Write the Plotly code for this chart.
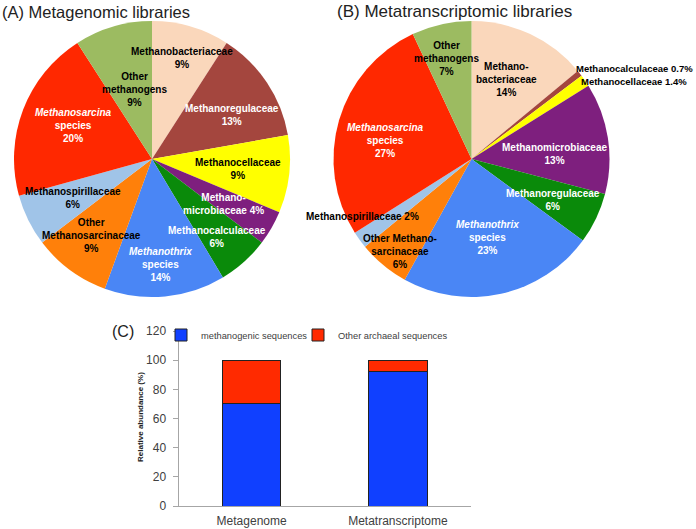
import math
import plotly.graph_objects as go

W, H = 696, 529

# ---------------- data ----------------
pie_colors = ["#FAD7BB", "#A4463E", "#FFFF00", "#7E1F7E", "#0A8A0A",
              "#4A86F5", "#FF800A", "#A0C4E8", "#FF2800", "#9CBB61"]

a_names = ["Methanobacteriaceae", "Methanoregulaceae", "Methanocellaceae",
           "Methanomicrobiaceae", "Methanocalculaceae", "Methanothrix species",
           "Other Methanosarcinaceae", "Methanospirillaceae",
           "Methanosarcina species", "Other methanogens"]
a_values = [9, 13, 9, 4, 6, 14, 9, 6, 20, 9]
a_text = ["Methanobacteriaceae<br>9%", "Methanoregulaceae<br>13%",
          "Methanocellaceae<br>9%", "Methano-<br>microbiaceae 4%",
          "Methanocalculaceae<br>6%", "<i>Methanothrix</i><br>species<br>14%",
          "Other<br>Methanosarcinaceae<br>9%", "Methanospirillaceae<br>6%",
          "<i>Methanosarcina</i><br>species<br>20%", "Other<br>methanogens<br>9%"]

b_names = ["Methanobacteriaceae", "Methanocalculaceae", "Methanocellaceae",
           "Methanomicrobiaceae", "Methanoregulaceae", "Methanothrix species",
           "Other Methanosarcinaceae", "Methanospirillaceae",
           "Methanosarcina species", "Other methanogens"]
b_values = [14, 0.7, 1.4, 13, 6, 23, 6, 2, 27, 7]
b_text = ["Methano-<br>bacteriaceae<br>14%", "Methanocalculaceae 0.7%",
          "Methanocellaceae 1.4%", "Methanomicrobiaceae<br>13%",
          "Methanoregulaceae<br>6%", "<i>Methanothrix</i><br>species<br>23%",
          "Other Methano-<br>sarcinaceae<br>6%", "Methanospirillaceae 2%",
          "<i>Methanosarcina</i><br>species<br>27%", "Other<br>methanogens<br>7%"]

bar_categories = ["Metagenome", "Metatranscriptome"]
methanogenic = [70, 92.5]
other_archaeal = [30, 7.5]
y_ticks = [0, 20, 40, 60, 80, 100, 120]

# ---------------- style / label placement ----------------
a_lab_color = ["black", "white", "black", "white", "white", "white",
               "black", "black", "white", "black"]
a_frac = [0.76, 0.66, 0.63, 0.61, 0.74, 0.77, 0.71, 0.64, 0.62, 0.52]
a_dang = [0, 5, 0, 2, 2, 1, 2, 0, 2, 2]
a_anchor = ["center"] * 10
a_size = [10] * 10

b_lab_color = ["black", "black", "black", "white", "white", "white",
               "black", "black", "white", "black"]
b_frac = [0.63, 0.99, 0.96, 0.60, 0.66, 0.58, 0.85, 0.89, 0.64, 0.75]
b_dang = [-1.5, -3.3, -1.4, 5.5, 1, 1, -2, 8, -4.5, -1.5]
b_anchor = ["center", "left", "left", "center", "center", "center",
            "center", "center", "center", "center"]
b_size = [10, 9.5, 9.5, 10, 10, 10, 10, 10, 10, 10]

FONT = "Liberation Sans, Arial, sans-serif"

pieA = dict(cx=152, cy=159, r=138)
pieB = dict(cx=471.5, cy=159, r=138)


def domain(p):
    return dict(x=[(p["cx"] - p["r"]) / W, (p["cx"] + p["r"]) / W],
                y=[1 - (p["cy"] + p["r"]) / H, 1 - (p["cy"] - p["r"]) / H])


def labels(values, texts, fracs, dangs, colors, anchors, sizes, p):
    total = sum(values)
    cum = 0.0
    out = []
    for v, t, f, d, c, an, s in zip(values, texts, fracs, dangs, colors, anchors, sizes):
        mid = math.radians((cum + v / 2) / total * 360 + d)
        cum += v
        px = p["cx"] + f * p["r"] * math.sin(mid)
        py = p["cy"] - f * p["r"] * math.cos(mid)
        out.append(dict(x=px / W, y=1 - py / H, xref="paper", yref="paper",
                        text=t, showarrow=False, xanchor=an, yanchor="middle",
                        align="center",
                        font=dict(family=FONT, size=s, color=c, weight="bold")))
    return out


fig = go.Figure()
fig.add_trace(go.Pie(values=a_values, labels=a_names, sort=False,
                     direction="clockwise", rotation=0, textinfo="none",
                     hoverinfo="label+percent", showlegend=False,
                     marker=dict(colors=pie_colors, line=dict(width=0)),
                     domain=domain(pieA)))
fig.add_trace(go.Pie(values=b_values, labels=b_names, sort=False,
                     direction="clockwise", rotation=0, textinfo="none",
                     hoverinfo="label+percent", showlegend=False,
                     marker=dict(colors=pie_colors, line=dict(width=0)),
                     domain=domain(pieB)))

fig.add_trace(go.Bar(x=bar_categories, y=methanogenic, name="methanogenic sequences",
                     marker=dict(color="#1040FF", line=dict(color="#222222", width=1)),
                     width=0.4, legend="legend"))
fig.add_trace(go.Bar(x=bar_categories, y=other_archaeal, name="Other archaeal sequences",
                     marker=dict(color="#FF2A00", line=dict(color="#222222", width=1)),
                     width=0.4, legend="legend2"))

ann = []
ann += labels(a_values, a_text, a_frac, a_dang, a_lab_color, a_anchor, a_size, pieA)
ann += labels(b_values, b_text, b_frac, b_dang, b_lab_color, b_anchor, b_size, pieB)
ann.append(dict(x=0, y=1 - 12 / H, xref="paper", yref="paper", xanchor="left",
                yanchor="middle", showarrow=False, text="(A) Metagenomic libraries",
                font=dict(family=FONT, size=16.5, color="#222222")))
ann.append(dict(x=335 / W, y=1 - 12 / H, xref="paper", yref="paper", xanchor="left",
                yanchor="middle", showarrow=False, text="(B) Metatranscriptomic libraries",
                font=dict(family=FONT, size=17, color="#222222")))
ann.append(dict(x=110 / W, y=1 - 331 / H, xref="paper", yref="paper", xanchor="left",
                yanchor="middle", showarrow=False, text="(C)",
                font=dict(family=FONT, size=16, color="#222222")))
ann.append(dict(x=140 / W, y=1 - 417 / H, xref="paper", yref="paper", xanchor="center",
                yanchor="middle", showarrow=False, text="Relative abundance (%)",
                textangle=-90,
                font=dict(family=FONT, size=8, color="#222222", weight="bold")))

leg_common = dict(orientation="h", yanchor="middle", xanchor="left",
                  font=dict(family=FONT, size=9.3, color="#404040"),
                  bgcolor="rgba(0,0,0,0)", itemwidth=30)

fig.update_layout(
    width=W, height=H,
    margin=dict(l=0, r=0, t=0, b=0, autoexpand=False),
    paper_bgcolor="white", plot_bgcolor="white",
    barmode="stack",
    annotations=ann,
    font=dict(family=FONT, color="#404040"),
    legend=dict(x=161 / W, y=1 - 335 / H, **leg_common),
    legend2=dict(x=298 / W, y=1 - 335 / H, **leg_common),
    xaxis=dict(domain=[178.5 / W, 471 / W], anchor="y", showline=True,
               linecolor="#A6A6A6", linewidth=1, ticks="", showgrid=False,
               zeroline=False, tickfont=dict(size=12, color="#404040"),
               range=[-0.5, 1.5], automargin=False, ticklabelstandoff=4),
    yaxis=dict(domain=[(H - 506) / H, (H - 331) / H], anchor="x", range=[0, 120],
               tickvals=y_ticks, showline=True, linecolor="#A6A6A6", linewidth=1,
               ticks="outside", ticklen=5, tickcolor="#A6A6A6", showgrid=False,
               zeroline=False, tickfont=dict(size=12, color="#404040"),
               automargin=False, ticklabelstandoff=4),
)

fig.write_html("out.html", config={"displayModeBar": False},
               post_script="document.body.style.margin='0';document.body.style.overflow='hidden';")
